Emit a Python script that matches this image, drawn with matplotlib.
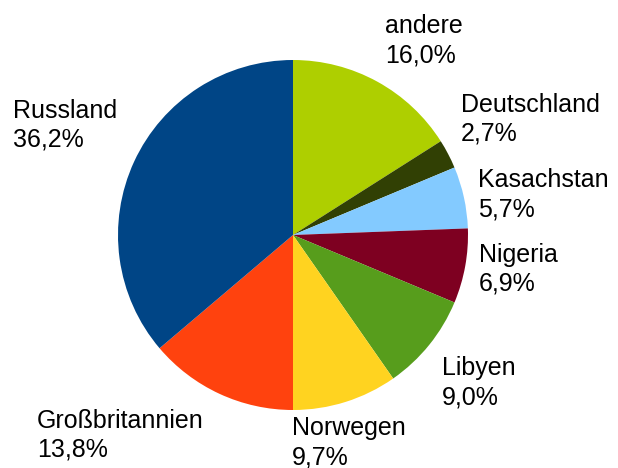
import matplotlib
matplotlib.use("Agg")
import matplotlib.pyplot as plt

plt.rcParams['font.family'] = ['Liberation Sans', 'DejaVu Sans']

# data, clockwise from 12 o'clock
laender = ['andere', 'Deutschland', 'Kasachstan', 'Nigeria', 'Libyen',
           'Norwegen', 'Großbritannien', 'Russland']
anteile = [16.0, 2.7, 5.7, 6.9, 9.0, 9.7, 13.8, 36.2]
farben = ['#aecf00', '#314004', '#83caff', '#7e0021', '#579d1c',
          '#ffd320', '#ff420e', '#004586']

# label anchor (left x, first baseline y) in pixels from top-left
label_pos = [(385, 33), (461, 112), (478, 187), (479, 262),
             (442, 375), (292, 435), (37, 428), (13, 118)]

W, H = 618, 468
fig = plt.figure(figsize=(W / 100, H / 100), dpi=100)

cx, cy, r = 293, 235, 175
ax = fig.add_axes([(cx - r) / W, (H - cy - r) / H, 2 * r / W, 2 * r / H])
ax.pie(anteile, colors=farben, startangle=90, counterclock=False,
       radius=1, wedgeprops=dict(linewidth=0))
ax.set_xlim(-1, 1)
ax.set_ylim(-1, 1)
ax.set_aspect('equal')
ax.axis('off')

line_gap = 29
for name, wert, (x, y) in zip(laender, anteile, label_pos):
    pct = ('%.1f' % wert).replace('.', ',') + '%'
    fig.text(x / W, 1 - y / H, name, fontsize=18, va='baseline', ha='left')
    fig.text(x / W, 1 - (y + line_gap) / H, pct, fontsize=18, va='baseline', ha='left')

fig.savefig('out.png', dpi=100)
